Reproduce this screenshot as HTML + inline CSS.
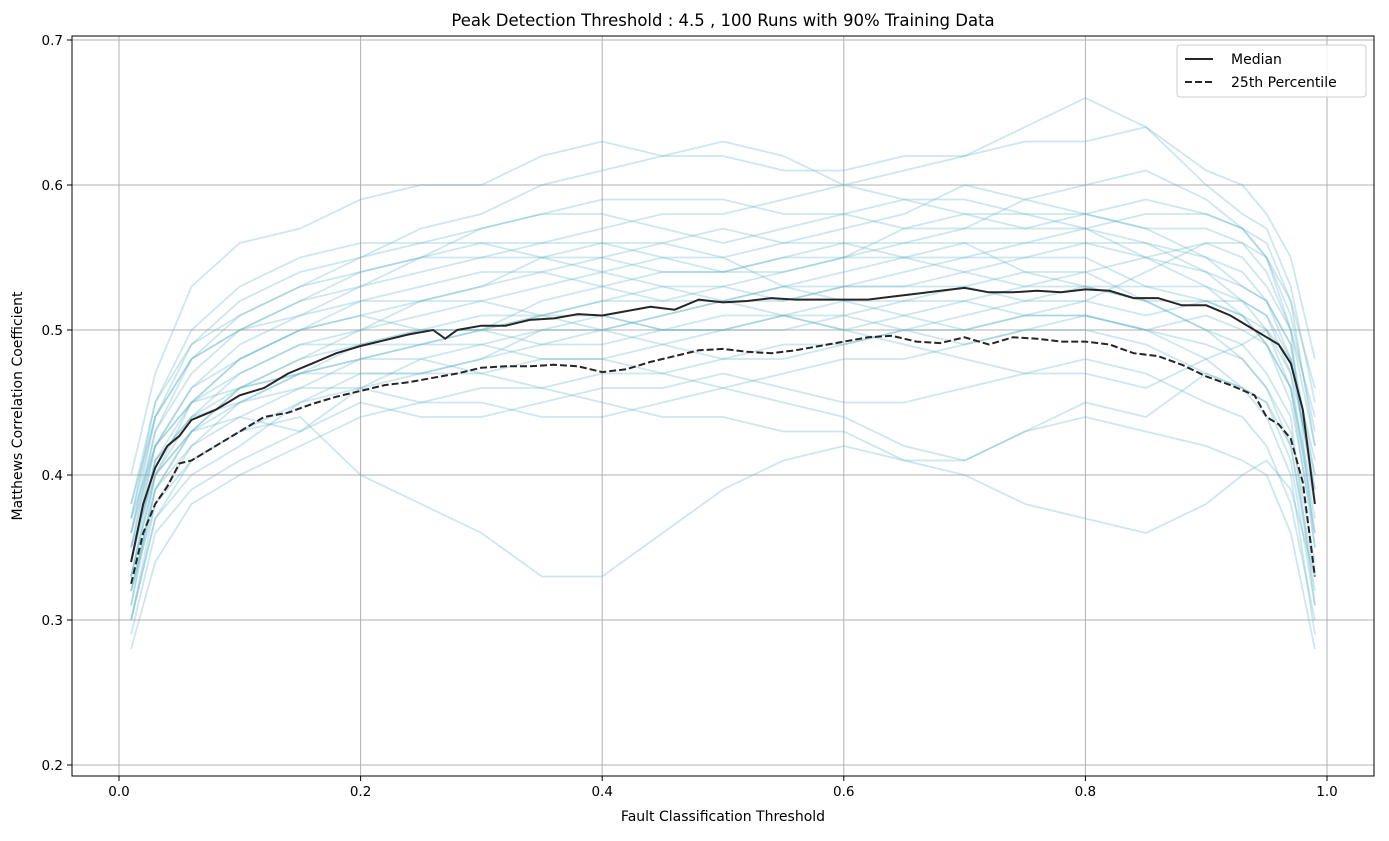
<!DOCTYPE html>
<html><head><meta charset="utf-8"><style>
body{margin:0;background:#fff;font-family:"Liberation Sans","DejaVu Sans",sans-serif;}
svg text{font-family:"DejaVu Sans","Liberation Sans",sans-serif;}
</style></head><body>
<svg id="chart" width="1389" height="836" viewBox="0 0 1389 836" xmlns="http://www.w3.org/2000/svg">
<rect x="0" y="0" width="1389" height="836" fill="#fff"/>
<text x="723" y="26" font-size="16.5" text-anchor="middle" fill="#000">Peak Detection Threshold : 4.5 , 100 Runs with 90% Training Data</text>
<g id="grid"></g>
<g id="runs"></g>
<g id="main"></g>
<rect x="72" y="36" width="1302" height="740" fill="none" stroke="#000" stroke-width="1"/>
<g id="ticks"></g>
<text x="723" y="821" font-size="14" text-anchor="middle">Fault Classification Threshold</text>
<text transform="translate(22,406) rotate(-90)" font-size="14" text-anchor="middle">Matthews Correlation Coefficient</text>
<g>
<rect x="1177" y="45" width="189" height="52" rx="3" fill="#fff" fill-opacity="0.85" stroke="#ccc"/>
<line x1="1185" y1="59" x2="1213" y2="59" stroke="#262626" stroke-width="2"/>
<text x="1231" y="64" font-size="14">Median</text>
<line x1="1185" y1="82" x2="1213" y2="82" stroke="#262626" stroke-width="2" stroke-dasharray="7,3"/>
<text x="1231" y="87" font-size="14">25th Percentile</text>
</g>
</svg>
<script>
const xTicks=[0.0,0.2,0.4,0.6,0.8,1.0];
const xTickLabels=["0.0","0.2","0.4","0.6","0.8","1.0"];
const yTicks=[0.2,0.3,0.4,0.5,0.6,0.7];
const yTickLabels=["0.2","0.3","0.4","0.5","0.6","0.7"];
const medX=[0.01,0.02,0.03,0.04,0.05,0.06,0.08,0.10,0.12,0.14,0.16,0.18,0.20,0.22,0.24,0.26,0.27,0.28,0.30,0.32,0.34,0.36,0.38,0.40,0.42,0.44,0.46,0.48,0.50,0.52,0.54,0.56,0.58,0.60,0.62,0.64,0.66,0.68,0.70,0.72,0.74,0.76,0.78,0.80,0.82,0.84,0.86,0.88,0.90,0.92,0.94,0.96,0.97,0.98,0.99];
const medY=[0.34,0.38,0.405,0.42,0.427,0.438,0.445,0.455,0.46,0.47,0.477,0.484,0.489,0.493,0.497,0.5,0.494,0.5,0.503,0.503,0.507,0.508,0.511,0.51,0.513,0.516,0.514,0.521,0.519,0.52,0.522,0.521,0.521,0.521,0.521,0.523,0.525,0.527,0.529,0.526,0.526,0.527,0.526,0.528,0.527,0.522,0.522,0.517,0.517,0.51,0.5,0.49,0.477,0.445,0.38];
const p25X=[0.01,0.02,0.03,0.04,0.05,0.06,0.08,0.10,0.12,0.14,0.16,0.18,0.20,0.22,0.24,0.26,0.28,0.30,0.32,0.34,0.36,0.38,0.40,0.42,0.44,0.46,0.48,0.50,0.52,0.54,0.56,0.58,0.60,0.62,0.64,0.66,0.68,0.70,0.72,0.74,0.76,0.78,0.80,0.82,0.84,0.86,0.88,0.90,0.92,0.94,0.95,0.96,0.97,0.98,0.99];
const p25Y=[0.325,0.36,0.38,0.392,0.408,0.41,0.42,0.43,0.44,0.443,0.449,0.454,0.458,0.462,0.464,0.467,0.47,0.474,0.475,0.475,0.476,0.475,0.471,0.473,0.478,0.482,0.486,0.487,0.485,0.484,0.486,0.489,0.492,0.495,0.496,0.492,0.491,0.495,0.49,0.495,0.494,0.492,0.492,0.49,0.484,0.482,0.476,0.468,0.462,0.455,0.44,0.435,0.425,0.395,0.33];
const runX=[0.01,0.03,0.06,0.1,0.15,0.2,0.25,0.3,0.35,0.4,0.45,0.5,0.55,0.6,0.65,0.7,0.75,0.8,0.85,0.9,0.93,0.95,0.97,0.99];
const runs=[
[0.40,0.47,0.53,0.56,0.57,0.59,0.60,0.60,0.62,0.63,0.62,0.62,0.61,0.61,0.62,0.62,0.63,0.63,0.64,0.60,0.58,0.57,0.53,0.45],
[0.36,0.43,0.47,0.50,0.52,0.54,0.55,0.55,0.56,0.57,0.58,0.58,0.59,0.60,0.61,0.62,0.64,0.66,0.64,0.61,0.60,0.58,0.55,0.48],
[0.33,0.41,0.44,0.46,0.48,0.50,0.51,0.52,0.53,0.54,0.55,0.55,0.56,0.57,0.58,0.60,0.59,0.58,0.57,0.57,0.56,0.54,0.50,0.42],
[0.30,0.37,0.40,0.42,0.45,0.47,0.47,0.48,0.49,0.50,0.51,0.52,0.52,0.53,0.53,0.54,0.55,0.55,0.53,0.52,0.51,0.50,0.46,0.38],
[0.28,0.34,0.38,0.40,0.42,0.44,0.45,0.46,0.46,0.47,0.47,0.48,0.49,0.49,0.50,0.50,0.51,0.51,0.50,0.49,0.48,0.46,0.42,0.33],
[0.35,0.40,0.43,0.44,0.43,0.45,0.44,0.44,0.45,0.46,0.46,0.47,0.46,0.45,0.45,0.46,0.47,0.48,0.47,0.45,0.44,0.42,0.38,0.30],
[0.32,0.38,0.41,0.43,0.44,0.40,0.38,0.36,0.33,0.33,0.36,0.39,0.41,0.42,0.41,0.41,0.43,0.44,0.43,0.42,0.41,0.40,0.36,0.28],
[0.38,0.44,0.49,0.52,0.54,0.55,0.56,0.57,0.58,0.59,0.59,0.59,0.58,0.58,0.57,0.57,0.57,0.58,0.59,0.58,0.57,0.56,0.52,0.46],
[0.34,0.42,0.46,0.49,0.51,0.52,0.52,0.53,0.54,0.55,0.56,0.57,0.56,0.56,0.55,0.55,0.55,0.56,0.56,0.55,0.54,0.52,0.49,0.40],
[0.31,0.39,0.43,0.45,0.47,0.49,0.50,0.51,0.51,0.52,0.52,0.52,0.53,0.54,0.55,0.56,0.54,0.53,0.52,0.52,0.51,0.49,0.45,0.36],
[0.29,0.36,0.39,0.41,0.43,0.46,0.48,0.49,0.48,0.48,0.47,0.46,0.45,0.44,0.42,0.41,0.43,0.45,0.44,0.47,0.46,0.45,0.42,0.32],
[0.37,0.42,0.45,0.48,0.50,0.51,0.50,0.50,0.49,0.49,0.50,0.51,0.51,0.50,0.49,0.48,0.47,0.47,0.46,0.48,0.49,0.50,0.48,0.41],
[0.33,0.40,0.44,0.47,0.49,0.50,0.52,0.53,0.55,0.56,0.56,0.55,0.53,0.52,0.51,0.50,0.51,0.52,0.54,0.56,0.56,0.55,0.51,0.43],
[0.35,0.42,0.45,0.46,0.47,0.48,0.48,0.47,0.46,0.45,0.44,0.44,0.43,0.43,0.41,0.40,0.38,0.37,0.36,0.38,0.40,0.41,0.39,0.33],
[0.36,0.44,0.48,0.51,0.53,0.55,0.57,0.58,0.60,0.61,0.62,0.63,0.62,0.60,0.59,0.59,0.58,0.57,0.55,0.53,0.52,0.51,0.48,0.39],
[0.30,0.38,0.42,0.44,0.46,0.48,0.49,0.50,0.52,0.53,0.54,0.54,0.55,0.56,0.56,0.57,0.59,0.60,0.61,0.59,0.57,0.55,0.50,0.35],
[0.32,0.39,0.42,0.45,0.47,0.47,0.47,0.48,0.50,0.51,0.50,0.50,0.51,0.52,0.52,0.53,0.54,0.54,0.52,0.50,0.49,0.47,0.44,0.31],
[0.37,0.45,0.50,0.53,0.55,0.56,0.56,0.56,0.55,0.55,0.54,0.54,0.55,0.55,0.56,0.56,0.56,0.56,0.55,0.56,0.55,0.53,0.50,0.44],
[0.34,0.41,0.44,0.45,0.46,0.46,0.45,0.45,0.44,0.44,0.45,0.46,0.47,0.48,0.48,0.49,0.50,0.50,0.49,0.47,0.46,0.44,0.40,0.29],
[0.31,0.40,0.45,0.48,0.50,0.51,0.52,0.52,0.51,0.51,0.50,0.50,0.51,0.51,0.52,0.52,0.51,0.51,0.50,0.51,0.50,0.49,0.46,0.37],
[0.35,0.43,0.48,0.50,0.52,0.53,0.54,0.55,0.55,0.54,0.53,0.53,0.52,0.53,0.54,0.55,0.56,0.57,0.56,0.54,0.52,0.50,0.47,0.40],
[0.33,0.40,0.43,0.46,0.48,0.49,0.50,0.50,0.51,0.52,0.53,0.52,0.51,0.50,0.51,0.52,0.53,0.53,0.52,0.50,0.48,0.46,0.43,0.34],
[0.38,0.45,0.49,0.51,0.53,0.54,0.55,0.57,0.58,0.58,0.57,0.56,0.57,0.58,0.59,0.58,0.57,0.57,0.58,0.58,0.57,0.55,0.52,0.42],
[0.30,0.37,0.41,0.43,0.45,0.46,0.47,0.47,0.48,0.48,0.49,0.50,0.50,0.51,0.50,0.49,0.50,0.51,0.50,0.48,0.46,0.45,0.41,0.31],
[0.36,0.42,0.46,0.48,0.50,0.52,0.53,0.54,0.54,0.53,0.52,0.53,0.54,0.55,0.55,0.54,0.53,0.54,0.55,0.54,0.53,0.52,0.49,0.38],
[0.32,0.39,0.43,0.46,0.47,0.48,0.49,0.49,0.50,0.50,0.51,0.52,0.53,0.53,0.53,0.53,0.52,0.52,0.51,0.52,0.52,0.51,0.47,0.36],
[0.34,0.41,0.45,0.47,0.49,0.49,0.49,0.50,0.51,0.50,0.49,0.48,0.48,0.49,0.50,0.51,0.52,0.53,0.53,0.53,0.51,0.49,0.46,0.35],
[0.37,0.44,0.48,0.50,0.51,0.53,0.55,0.56,0.56,0.56,0.55,0.54,0.54,0.55,0.57,0.58,0.58,0.58,0.57,0.55,0.53,0.52,0.48,0.39]
];
const NS="http://www.w3.org/2000/svg";
const X0=72,X1=1374,Y0=36,Y1=776;
function sx(v){return 119+v*1208;}
function sy(v){return 765-(v-0.2)*1450;}
function mk(tag,attrs,parent){const e=document.createElementNS(NS,tag);for(const k in attrs)e.setAttribute(k,attrs[k]);parent.appendChild(e);return e;}
const grid=document.getElementById('grid'),ticks=document.getElementById('ticks');
xTicks.forEach((t,i)=>{
 const g=mk('line',{x1:sx(t),x2:sx(t),y1:Y0,y2:Y1,stroke:'#b0b0b0','stroke-width':1},grid);
 
 
 mk('line',{x1:sx(t),x2:sx(t),y1:Y1,y2:Y1+5,stroke:'#000'},ticks);
 const tx=mk('text',{x:sx(t),y:Y1+20,'font-size':13.5,'text-anchor':'middle'},ticks);
 tx.textContent=xTickLabels[i];
 
 
});
yTicks.forEach((t,i)=>{
 const g=mk('line',{x1:X0,x2:X1,y1:sy(t),y2:sy(t),stroke:'#b0b0b0','stroke-width':1},grid);
 
 
 mk('line',{x1:X0-5,x2:X0,y1:sy(t),y2:sy(t),stroke:'#000'},ticks);
 const tx=mk('text',{x:X0-9,y:sy(t)+5,'font-size':13.5,'text-anchor':'end'},ticks);
 tx.textContent=yTickLabels[i];
 
 
});
function pts(xs,ys){return xs.map((x,i)=>sx(x).toFixed(1)+','+sy(ys[i]).toFixed(1)).join(' ');}
const rg=document.getElementById('runs');
runs.forEach(r=>{
 const p=mk('polyline',{points:pts(runX,r),fill:'none',stroke:'#5ab0c8','stroke-opacity':0.3,'stroke-width':1.8},rg);
 
 
});
const mg=document.getElementById('main');
const m=mk('polyline',{points:pts(medX,medY),fill:'none',stroke:'#262626','stroke-width':2},mg);


const q=mk('polyline',{points:pts(p25X,p25Y),fill:'none',stroke:'#262626','stroke-width':2,'stroke-dasharray':'7,3'},mg);


</script>
</body></html>
